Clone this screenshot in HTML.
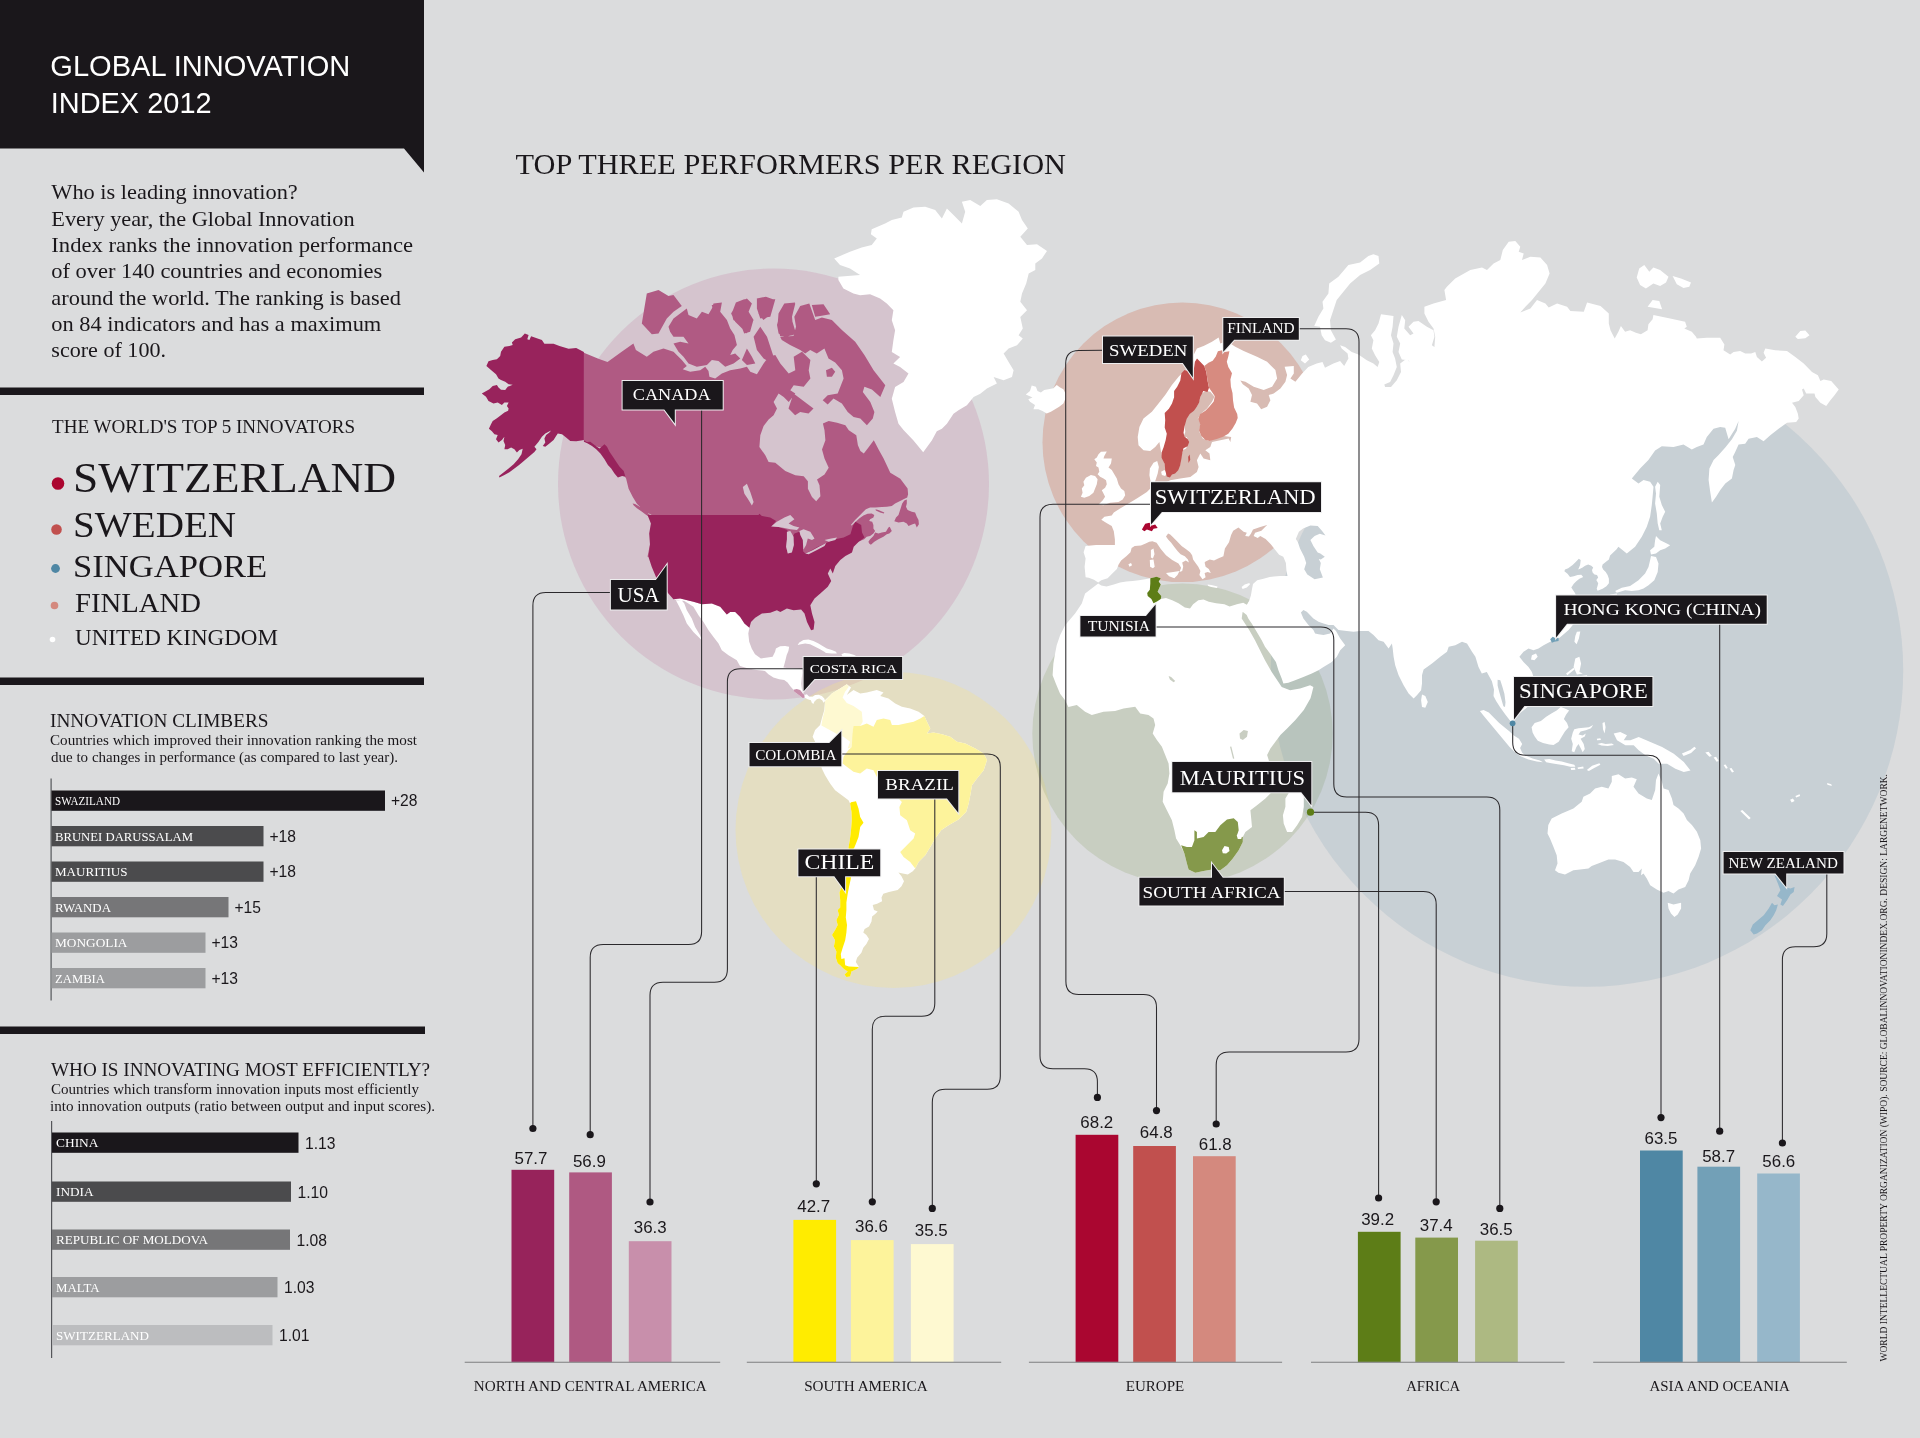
<!DOCTYPE html>
<html lang="en"><head><meta charset="utf-8"><title>Global Innovation Index 2012</title>
<style>html,body{margin:0;padding:0;background:#dbdcdd;}body{width:1920px;height:1438px;overflow:hidden;}svg{display:block;will-change:transform;}text{white-space:pre;}</style></head><body>
<svg width="1920" height="1438" viewBox="0 0 1920 1438">
<rect x="0.0" y="0.0" width="1920.0" height="1438.0" fill="#dbdcdd"/>
<g id="map">
<circle cx="773.5" cy="484" r="215.5" fill="#bd6497" fill-opacity="0.2"/>
<circle cx="893.5" cy="830" r="158" fill="#f9e686" fill-opacity="0.3"/>
<circle cx="1182.3" cy="442.3" r="139.8" fill="#cf5839" fill-opacity="0.25"/>
<circle cx="1182.5" cy="733.7" r="150.2" fill="#7f9456" fill-opacity="0.2"/>
<circle cx="1587" cy="670.5" r="316.2" fill="#5b8aa8" fill-opacity="0.15"/>
<path fill="#ffffff" d="M673.4 599.3L680.1 598.5L693.4 601.8L701.8 604.3L711.8 603.5L720.2 606.8L726.8 614.4L730.2 611.9L735.2 611.9L740.2 616.9L744.4 623.5L749.4 627.7L748.3 633.4L749.2 641.7L751.7 648.4L755.0 654.3L760.9 658.4L767.5 657.6L772.6 656.8L775.1 651.7L775.9 648.4L780.1 646.3L785.1 645.9L789.2 646.7L788.4 650.9L786.7 655.1L785.5 660.1L784.2 665.1L783.4 667.6L786.7 668.0L791.7 668.0L798.4 668.4L802.2 668.9L802.6 672.6L801.8 677.6L801.3 683.5L801.8 688.5L803.4 693.5L804.7 695.1L806.8 694.3L809.3 696.8L812.6 696.8L815.1 695.1L818.5 694.7L821.8 696.0L824.3 698.5L825.1 701.0L823.5 702.7L822.2 700.2L819.3 698.5L816.8 699.3L814.3 701.8L813.4 703.9L811.8 702.7L810.9 700.2L807.6 699.3L805.5 698.1L802.6 698.1L800.1 696.0L796.8 693.5L794.3 691.8L793.4 689.7L790.1 686.0L787.6 682.6L784.2 680.1L779.2 679.3L773.4 677.6L768.4 674.3L765.0 670.9L756.7 670.1L748.3 668.4L740.0 665.9L736.8 660.3L728.5 655.3L721.8 650.3L718.5 643.6L713.5 636.9L708.5 630.2L703.5 621.9L698.5 615.2L693.4 606.8L688.4 603.5L684.3 601.0ZM681.8 600.5L684.3 603.5L686.8 610.2L691.8 618.5L695.1 626.9L700.1 635.2L701.8 640.2L698.5 636.9L693.4 631.9L686.8 623.5L683.4 615.2L679.3 606.8L675.9 600.2ZM797.6 645.1L799.3 642.6L803.4 640.1L808.4 639.6L813.4 640.9L818.5 643.4L822.6 645.9L826.8 648.4L831.8 650.1L836.0 651.7L836.8 653.4L831.8 653.4L826.0 653.0L824.3 651.7L820.1 649.2L815.1 646.7L810.1 644.2L805.1 643.4L800.9 644.2ZM841.4 654.3L844.3 653.0L849.3 653.4L854.3 655.1L858.5 657.6L848.5 657.6L842.7 656.8ZM834.2 258.4L850.0 251.8L861.7 247.6L871.7 245.1L876.8 238.4L870.9 234.2L871.7 229.2L885.1 223.4L891.8 220.0L901.8 217.5L903.5 211.7L913.5 207.5L925.2 206.7L935.2 210.0L941.9 218.4L946.9 208.4L953.5 215.0L961.9 223.4L965.2 211.7L961.9 201.7L970.2 200.0L980.3 205.9L986.9 200.0L996.9 199.2L1008.6 203.4L1018.6 211.7L1022.0 220.0L1027.8 228.4L1020.3 236.7L1027.0 245.1L1037.0 244.3L1047.0 250.9L1042.0 258.4L1035.3 263.4L1035.3 270.1L1028.7 273.5L1026.2 283.5L1022.0 293.5L1020.3 301.8L1027.0 310.2L1020.3 316.9L1022.8 328.5L1018.6 335.2L1022.8 338.6L1017.0 345.2L1008.6 348.6L1003.6 353.6L1008.6 361.9L1013.6 370.3L1012.0 377.0L1003.6 380.3L993.6 377.0L996.9 383.6L986.9 388.6L980.3 393.7L973.6 397.0L966.9 405.3L958.5 410.3L953.5 413.7L946.9 423.7L941.9 428.7L936.8 431.2L931.8 440.4L923.2 452.2L913.5 440.4L903.5 430.0L898.5 423.7L895.1 412.0L891.8 398.7L895.1 387.0L903.5 382.0L908.5 373.6L900.1 366.9L893.4 363.6L900.1 356.9L891.8 351.9L893.4 340.2L895.1 330.2L891.8 320.2L893.4 310.2L886.8 303.5L880.1 298.5L870.1 294.3L860.1 295.2L853.4 293.5L843.4 288.5L838.4 280.1L838.4 276.8L860.1 275.1L850.0 268.5L840.0 265.1ZM1025.8 394.6L1030.0 390.9L1031.7 385.4L1035.9 386.7L1037.5 390.9L1040.9 392.5L1044.2 390.0L1048.4 389.2L1053.4 388.3L1056.7 385.0L1060.1 387.5L1063.4 389.2L1065.5 393.4L1065.5 398.4L1063.4 403.4L1059.2 406.7L1055.1 409.2L1050.9 411.7L1046.7 413.4L1042.5 410.9L1038.4 409.2L1033.4 409.2L1035.0 405.0L1030.0 401.7L1028.3 399.2L1032.5 397.5L1029.2 395.9ZM825.1 700.0L831.8 693.4L840.1 688.4L846.8 684.2L851.0 687.5L846.8 695.0L853.5 690.0L860.2 693.4L866.8 692.5L876.8 690.0L883.5 692.5L880.2 695.9L888.5 698.4L895.2 703.4L901.9 706.7L910.2 708.4L918.6 711.7L924.4 715.9L927.8 723.4L930.3 728.4L926.9 733.4L933.6 732.6L942.0 734.3L950.3 736.8L957.0 741.8L965.3 743.4L975.3 748.5L983.7 753.5L987.0 760.1L983.7 770.2L977.0 778.5L972.0 785.2L970.3 795.2L968.7 803.5L966.2 811.9L958.6 819.4L948.6 825.2L941.1 830.3L935.3 838.6L930.3 846.9L925.3 855.3L918.6 862.0L915.2 868.6L912.8 871.3L907.8 874.4L901.5 873.2L898.4 872.6L901.5 876.3L904.0 881.3L901.5 886.3L897.7 890.1L889.0 892.0L883.3 893.8L881.5 897.6L882.1 901.3L877.1 903.8L872.7 905.1L874.0 910.1L877.7 911.4L875.2 913.9L872.1 916.4L871.5 921.4L869.0 926.4L864.6 928.9L863.3 932.6L866.4 935.1L869.0 938.9L866.4 943.9L863.3 947.7L861.4 952.7L857.1 957.7L855.8 962.1L858.9 967.1L857.1 969.0L851.4 971.5L850.2 976.5L846.4 977.1L844.5 974.6L847.7 971.5L843.9 969.0L840.2 965.2L837.7 963.3L835.8 957.7L836.4 951.4L833.9 946.4L835.1 940.2L832.0 935.1L835.1 930.1L837.7 925.1L836.4 920.1L838.9 915.1L837.7 910.1L840.2 907.6L840.2 900.1L839.5 892.6L841.4 887.6L845.2 878.8L847.4 862.5L848.9 847.5L848.1 849.4L849.8 840.3L851.0 830.3L851.8 820.2L851.5 811.9L850.1 803.5L848.5 800.2L841.8 795.2L835.1 790.2L830.1 783.5L825.1 775.2L821.8 768.5L817.6 753.5L815.1 741.8L812.6 736.8L815.1 730.1L820.1 725.1L821.8 718.4L824.3 710.1ZM1098.2 583.5L1101.3 585.6L1106.5 586.6L1113.8 584.5L1120.1 582.4L1126.3 581.4L1132.6 580.9L1138.9 580.3L1145.1 579.3L1150.3 578.2L1156.6 576.7L1160.8 578.2L1158.7 581.4L1160.8 584.5L1157.6 591.8L1161.3 596.0L1160.8 599.1L1166.0 598.1L1172.2 600.2L1178.5 603.3L1184.8 607.5L1190.0 608.5L1193.1 604.3L1198.3 600.2L1203.5 599.6L1208.8 601.7L1216.1 603.3L1224.4 604.3L1229.6 606.4L1236.9 604.3L1243.2 602.8L1246.8 604.8L1248.9 601.6L1250.9 603.7L1246.8 610.0L1243.6 612.6L1242.6 612.1L1241.7 618.5L1249.2 630.1L1255.0 640.2L1260.0 650.2L1265.0 660.2L1271.7 671.9L1278.4 681.9L1281.7 686.9L1290.1 690.2L1300.1 688.6L1310.1 685.2L1313.4 686.9L1311.8 693.6L1310.5 698.3L1303.8 710.0L1295.4 720.0L1287.1 728.4L1280.4 735.1L1275.4 741.7L1270.4 748.4L1267.1 755.1L1268.7 760.1L1270.4 768.5L1273.7 776.8L1275.4 785.1L1270.4 793.5L1265.4 798.5L1257.0 805.2L1250.4 810.2L1251.2 818.5L1252.0 826.9L1245.4 831.9L1242.8 836.9L1242.8 841.9L1238.7 850.3L1232.8 858.6L1227.0 865.3L1220.3 870.3L1212.0 869.4L1203.6 871.1L1195.3 872.8L1188.6 869.4L1186.9 863.6L1184.4 853.6L1180.3 845.2L1176.1 838.6L1174.4 830.2L1171.9 820.2L1166.9 810.2L1162.7 801.8L1163.6 791.8L1167.7 783.5L1169.4 773.5L1168.6 763.4L1165.2 755.1L1161.9 746.8L1156.9 740.1L1152.7 733.4L1155.2 725.1L1153.5 718.4L1148.5 715.0L1140.2 713.4L1135.2 706.7L1123.5 708.4L1115.1 710.9L1103.5 711.7L1091.8 715.0L1085.1 711.7L1076.8 705.0L1068.4 707.0L1065.1 700.3L1060.1 693.7L1055.9 683.7L1052.6 675.3L1053.4 663.6L1055.1 653.6L1056.7 645.3L1060.1 635.2L1065.1 625.2L1075.1 613.5L1081.8 603.5L1085.1 593.5ZM1285.4 798.5L1290.4 790.2L1300.4 783.5L1303.8 790.2L1303.8 806.8L1302.1 816.9L1297.1 825.2L1292.1 831.9L1287.1 831.9L1283.7 823.5L1282.9 815.2L1285.4 806.8ZM1098.5 454.3L1101.0 451.8L1106.8 451.4L1104.3 456.0L1103.5 458.5L1111.8 458.5L1111.0 463.5L1108.5 467.6L1111.8 470.1L1114.3 474.3L1116.8 478.5L1118.5 484.3L1121.0 488.5L1124.3 491.0L1125.2 495.2L1122.7 499.4L1118.5 501.9L1110.1 502.7L1103.5 505.2L1098.5 504.4L1102.6 500.6L1105.1 496.8L1103.5 493.5L1101.8 490.2L1105.1 487.7L1106.8 484.3L1106.0 480.2L1103.5 478.5L1100.1 476.8L1097.6 474.3L1099.3 471.8L1098.5 467.6L1096.0 466.0L1096.8 462.6L1094.3 459.3L1096.8 457.6ZM1083.4 481.8L1085.9 477.7L1090.9 475.1L1095.1 476.0L1097.6 479.3L1096.8 484.3L1095.1 488.5L1093.4 492.7L1089.3 496.0L1084.3 497.7L1080.9 496.8L1082.6 492.7L1081.8 488.5L1084.3 485.2ZM1161.1 471.8L1164.4 470.1L1166.9 472.6L1165.2 476.0L1161.9 475.1ZM1150.9 550.1L1153.5 548.5L1154.5 554.3L1152.9 558.4L1150.9 557.4ZM1149.8 560.0L1153.5 559.5L1154.7 566.8L1152.9 568.3L1150.1 566.8ZM1166.0 573.0L1173.3 572.0L1179.5 570.9L1177.5 575.1L1174.3 578.2L1169.1 576.2ZM1128.4 564.2L1131.0 563.1L1132.1 565.2L1129.5 566.8ZM1207.6 584.4L1211.3 585.1L1217.6 586.5L1217.0 587.9L1211.3 587.0L1208.2 586.0ZM1241.6 587.0L1244.7 584.4L1249.4 582.9L1249.9 584.4L1246.8 587.5L1242.6 589.1ZM1373.4 254.2L1378.5 255.9L1379.3 263.4L1370.1 270.1L1360.1 275.1L1350.1 283.4L1343.4 291.8L1336.7 300.1L1333.4 310.1L1330.0 320.2L1330.9 330.2L1335.9 339.4L1330.9 342.7L1325.0 340.2L1321.7 335.2L1320.0 326.8L1314.2 326.0L1318.4 316.8L1323.4 308.5L1322.5 301.8L1328.4 293.4L1329.2 283.4L1338.4 276.8L1348.4 265.1L1360.1 262.6L1368.4 255.9ZM1302.5 356.0L1305.8 354.4L1309.2 359.4L1305.0 363.6L1300.8 360.2ZM1636.7 277.6L1639.2 268.4L1644.3 265.1L1649.3 271.7L1653.4 267.6L1660.1 270.1L1668.5 276.8L1666.0 282.6L1660.1 285.9L1653.4 283.4L1645.9 288.4L1640.1 285.1ZM1672.6 275.9L1681.0 278.4L1691.0 282.6L1689.3 286.8L1683.5 288.1L1676.8 284.3ZM1647.6 306.8L1652.6 300.1L1659.3 301.0L1662.1 309.3ZM1795.3 336.8L1800.3 331.0L1805.3 330.5L1809.5 335.2L1805.3 338.2L1797.8 338.9ZM1657.7 481.7L1660.2 485.1L1659.3 496.8L1661.8 505.1L1665.2 511.8L1662.7 516.8L1660.2 523.5L1661.8 530.2L1659.3 530.2L1657.7 523.5L1656.8 513.5L1655.1 503.4L1656.0 493.4L1655.1 486.8ZM1656.0 536.0L1660.2 540.2L1666.8 543.5L1670.2 545.2L1665.2 548.5L1660.2 550.2L1656.0 553.5L1651.0 554.4L1650.1 550.2L1654.3 546.8L1655.1 540.2ZM1651.0 556.0L1656.0 556.9L1658.5 563.5L1657.7 571.9L1654.3 580.2L1648.5 585.2L1643.5 588.6L1638.5 590.3L1631.8 591.1L1625.1 590.3L1616.8 592.8L1615.1 591.1L1621.8 587.7L1630.1 586.1L1638.5 580.2L1645.1 573.6L1648.5 566.9L1650.1 560.2ZM1610.1 594.4L1616.8 593.6L1617.6 598.6L1613.4 601.9L1610.1 599.4ZM1576.9 631.8L1580.3 631.5L1578.9 638.5L1576.6 644.3L1574.4 641.8L1575.3 636.0ZM1531.9 655.2L1536.0 653.5L1537.7 656.8L1534.4 660.2L1531.0 659.4ZM1479.9 711.0L1483.6 710.0L1488.8 712.6L1494.0 717.8L1499.2 723.0L1504.4 727.2L1509.6 731.4L1513.8 735.6L1519.0 738.7L1522.2 743.9L1520.1 748.1L1522.2 752.8L1525.3 755.4L1532.6 758.5L1539.9 760.6L1543.0 762.2L1536.8 761.6L1528.4 759.5L1521.1 756.4L1514.9 752.2L1509.6 747.0L1504.4 740.8L1499.2 734.5L1494.0 728.2L1488.8 722.0L1483.6 715.7ZM1531.6 727.2L1534.7 723.0L1540.9 720.9L1546.2 716.8L1551.4 713.6L1556.6 710.5L1560.8 706.9L1564.9 708.4L1569.1 710.5L1566.0 714.7L1563.9 718.9L1567.0 723.0L1568.6 727.2L1564.9 731.4L1561.8 736.6L1558.7 741.8L1553.5 744.9L1549.3 744.4L1543.0 742.9L1537.8 740.8L1534.7 736.6L1532.6 732.4ZM1572.8 732.4L1574.3 729.3L1578.5 728.2L1583.7 727.7L1588.9 727.2L1593.1 725.1L1591.0 728.2L1585.8 730.3L1580.6 731.4L1578.5 734.5L1582.7 735.6L1585.8 733.5L1584.8 736.6L1580.6 738.7L1583.7 743.9L1584.8 749.1L1582.7 752.2L1580.6 748.1L1578.5 743.9L1576.4 747.0L1574.3 752.2L1571.7 751.2L1572.8 743.9L1571.2 738.7ZM1544.1 759.5L1549.3 759.0L1555.6 760.6L1561.8 761.6L1568.1 763.2L1574.3 764.8L1575.4 766.8L1570.2 766.8L1563.9 765.3L1557.6 764.2L1551.4 763.2L1546.2 762.2ZM1570.7 767.9L1574.9 767.7L1575.4 769.8L1571.2 770.0ZM1577.5 767.4L1583.2 766.6L1583.7 768.4L1578.0 769.1ZM1586.8 770.0L1592.1 765.8L1599.4 763.2L1600.4 764.8L1594.2 767.9L1588.9 771.0ZM1602.5 723.0L1604.6 722.0L1605.6 727.2L1604.6 733.5L1603.0 729.3ZM1597.3 743.9L1601.5 742.9L1605.6 743.9L1611.9 743.4L1614.0 744.9L1607.7 746.0L1601.5 745.5ZM1596.8 738.7L1600.4 738.2L1600.9 739.9L1597.1 740.2ZM1575.3 658.5L1579.4 656.8L1581.1 663.5L1579.4 671.9L1582.8 673.5L1576.9 674.4L1573.6 666.9ZM1581.1 676.0L1587.0 675.2L1587.8 678.5L1582.8 679.4ZM1566.1 673.5L1573.6 667.7L1574.4 669.4L1567.3 675.2ZM1613.7 733.6L1620.3 732.0L1627.0 735.3L1623.7 740.3L1630.4 740.3L1638.7 737.0L1650.4 742.0L1662.1 747.0L1673.8 753.7L1683.8 762.0L1690.5 770.4L1683.8 772.0L1675.4 768.7L1667.1 763.7L1658.7 763.7L1653.7 758.7L1645.4 755.3L1638.7 750.3L1633.7 745.3L1625.4 745.3L1617.0 740.3ZM1422.0 694.4L1425.3 696.1L1427.8 701.9L1425.3 707.8L1422.0 706.9L1421.1 700.3ZM1548.3 825.1L1551.7 818.5L1561.7 813.4L1573.4 808.4L1581.7 801.8L1583.4 796.8L1590.1 793.4L1595.1 788.4L1601.8 786.7L1608.4 788.4L1611.8 781.7L1611.8 775.9L1618.5 774.2L1625.1 778.4L1631.8 777.6L1636.8 779.2L1633.5 786.7L1638.5 793.4L1646.8 798.4L1651.8 800.1L1655.2 790.1L1656.0 780.1L1658.5 773.4L1661.9 781.7L1663.5 788.4L1668.5 790.1L1671.9 798.4L1673.5 805.1L1678.5 808.4L1683.6 813.4L1686.9 820.1L1691.9 825.1L1696.9 831.8L1700.3 840.2L1701.1 848.5L1698.6 856.8L1695.2 865.2L1690.2 873.5L1688.6 880.2L1685.2 886.9L1678.5 889.4L1673.5 893.6L1668.5 891.1L1663.5 892.7L1656.8 889.4L1650.2 885.2L1646.8 878.5L1643.5 873.5L1641.0 875.2L1641.8 868.5L1638.5 871.9L1633.5 871.9L1630.1 866.9L1623.5 861.9L1615.1 859.4L1608.4 859.4L1600.1 862.7L1591.7 866.0L1588.4 868.5L1580.1 869.4L1573.4 870.2L1565.0 874.4L1558.4 872.7L1555.0 870.2L1557.5 863.5L1556.7 855.2L1553.4 846.8L1550.0 838.5L1547.5 833.5ZM1667.7 902.8L1673.5 904.4L1681.1 902.8L1681.1 908.6L1677.7 914.4L1674.4 916.9L1671.0 913.6L1668.5 908.6ZM1740.3 810.9L1742.3 810.1L1750.7 818.1L1749.0 819.5ZM1790.1 799.8L1792.9 798.4L1794.6 800.9L1791.7 802.6ZM1795.4 795.9L1799.6 794.3L1800.1 795.9L1796.2 797.6ZM1705.3 752.5L1708.6 751.7L1711.9 755.9L1709.4 756.7ZM1713.6 757.5L1716.1 756.7L1718.6 760.9L1716.6 761.7ZM1723.6 765.0L1725.6 764.4L1727.8 768.0L1726.0 768.7ZM1729.5 768.4L1731.5 768.0L1734.0 771.7L1732.0 772.6ZM1681.9 753.4L1690.2 750.0L1694.4 746.7L1696.1 748.3L1691.1 753.0L1683.6 755.9ZM1827.1 783.1L1831.3 784.2L1831.8 785.9L1827.4 784.7Z"/>
<path fill="#ffffff" d="M1218.6 337.6L1220.3 343.4L1225.3 341.7L1230.3 343.4L1235.3 346.7L1243.7 350.9L1257.0 356.8L1267.1 361.8L1275.4 370.1L1277.1 378.5L1272.1 386.8L1263.7 390.1L1253.7 386.8L1245.4 381.8L1240.3 380.5L1242.8 384.3L1248.7 388.5L1252.0 395.1L1250.4 401.8L1257.0 403.5L1261.2 409.3L1267.1 406.8L1270.4 400.2L1268.7 395.1L1273.7 393.5L1280.4 388.5L1285.4 381.8L1287.1 375.1L1284.6 366.8L1293.8 365.9L1293.8 373.4L1290.4 378.5L1295.4 381.8L1302.1 373.4L1308.3 366.9L1316.7 363.6L1322.5 361.9L1325.0 367.7L1333.4 363.6L1340.1 361.1L1344.2 366.1L1348.4 358.5L1347.6 353.5L1341.7 348.5L1340.1 345.2L1345.1 346.9L1351.7 351.9L1358.4 354.4L1366.8 360.2L1373.4 363.6L1377.6 366.9L1379.3 361.9L1375.1 355.2L1371.8 348.5L1373.4 340.2L1370.9 335.2L1375.1 330.2L1378.5 323.5L1381.0 314.3L1393.5 316.0L1392.6 326.8L1391.0 335.2L1393.5 343.5L1392.6 351.9L1395.1 358.5L1396.8 366.9L1393.5 375.2L1390.1 381.9L1384.3 384.4L1385.1 386.9L1391.0 386.9L1396.8 380.3L1401.0 371.9L1400.2 363.6L1406.8 358.5L1411.8 365.2L1415.2 373.6L1411.8 366.9L1408.5 360.2L1401.8 359.4L1398.5 351.9L1400.2 343.5L1396.8 336.8L1398.5 326.8L1401.8 315.1L1405.2 320.2L1404.3 328.5L1410.2 335.2L1413.5 333.5L1408.5 326.8L1413.5 321.8L1418.5 321.0L1426.9 326.8L1433.5 330.2L1434.4 336.8L1431.9 345.2L1434.4 346.9L1435.2 336.8L1433.5 328.5L1428.5 321.8L1424.4 313.5L1424.4 306.8L1433.5 303.5L1446.1 300.1L1444.4 290.1L1446.9 286.8L1455.2 278.4L1470.3 270.1L1482.0 267.6L1487.0 270.1L1493.6 263.4L1500.3 260.1L1502.8 250.0L1508.7 241.7L1515.3 240.9L1520.3 246.7L1518.7 251.7L1523.7 253.4L1522.0 260.1L1530.4 256.7L1540.4 257.6L1547.1 265.1L1549.6 273.4L1545.4 283.4L1538.7 291.8L1532.0 300.1L1525.4 306.8L1520.3 312.6L1530.4 308.5L1537.0 300.1L1545.4 303.5L1548.7 307.6L1557.1 303.5L1567.1 306.8L1570.4 311.0L1583.8 311.8L1587.1 302.6L1600.5 306.0L1608.8 313.5L1608.8 323.5L1610.5 330.2L1614.7 338.5L1618.4 331.8L1620.9 326.0L1625.1 331.8L1630.1 330.2L1635.9 332.7L1640.9 334.3L1647.6 330.2L1648.4 324.3L1652.6 319.3L1653.4 315.1L1670.1 318.5L1685.1 321.8L1686.8 326.8L1684.3 328.5L1691.8 331.8L1696.0 336.8L1696.8 338.5L1706.8 337.7L1720.2 337.7L1724.4 344.4L1723.5 350.2L1730.2 354.4L1733.6 351.9L1740.2 351.0L1745.2 353.5L1751.1 353.5L1755.3 351.9L1756.9 356.9L1761.9 361.6L1766.1 357.7L1763.6 352.7L1765.3 348.5L1775.3 350.2L1787.0 351.0L1795.3 356.9L1803.7 363.6L1812.0 371.9L1817.9 375.2L1820.4 381.1L1823.7 379.4L1831.2 381.1L1838.7 389.4L1834.5 395.3L1830.4 400.3L1826.2 406.1L1820.4 402.8L1815.4 396.9L1814.5 393.6L1806.2 393.6L1803.7 388.6L1802.0 389.4L1803.7 395.3L1798.7 401.1L1792.0 402.8L1795.3 407.0L1797.8 413.6L1798.7 418.6L1796.2 422.0L1787.0 422.8L1778.6 428.7L1770.3 435.3L1763.6 441.2L1756.9 437.0L1748.6 438.7L1745.2 443.7L1738.6 444.5L1735.2 452.0L1732.7 457.0L1735.3 465.1L1733.6 470.1L1731.9 478.4L1725.3 483.4L1720.3 490.1L1716.1 496.8L1711.9 502.6L1710.2 491.8L1708.6 480.1L1709.4 468.4L1713.6 460.0L1718.6 455.0L1725.3 447.5L1731.9 439.2L1736.9 430.8L1738.6 421.1L1735.2 428.7L1728.6 439.2L1725.2 427.8L1720.2 427.0L1713.5 428.7L1706.8 437.0L1703.5 444.5L1696.8 447.0L1691.8 449.5L1683.5 444.5L1673.5 447.0L1661.8 446.2L1655.1 450.4L1648.4 460.0L1640.1 468.4L1631.8 478.4L1638.5 483.4L1643.5 480.1L1650.1 481.7L1653.5 486.8L1652.6 496.8L1651.8 505.1L1650.1 516.8L1646.8 526.8L1641.8 536.8L1635.1 546.8L1626.8 553.5L1618.4 546.8L1616.4 549.4L1613.2 552.5L1610.1 555.6L1608.9 559.4L1605.7 561.9L1602.6 564.4L1602.0 566.9L1603.2 569.4L1605.7 571.9L1607.6 575.1L1608.9 578.8L1608.9 583.2L1606.4 586.3L1602.6 588.8L1597.6 590.7L1596.7 588.8L1597.6 585.7L1598.2 583.2L1596.3 580.1L1598.2 577.6L1597.0 575.1L1594.5 574.4L1592.6 572.6L1592.0 570.0L1593.2 567.5L1591.3 565.7L1588.2 564.4L1585.1 565.7L1582.6 567.5L1580.1 568.8L1578.2 569.4L1580.1 565.0L1580.7 560.0L1578.8 558.8L1575.7 561.9L1572.6 565.0L1568.2 568.2L1565.0 569.4L1564.4 571.3L1567.5 573.8L1570.0 576.9L1573.8 576.3L1577.6 575.1L1581.3 574.7L1583.2 576.9L1579.4 578.8L1576.3 581.3L1573.8 583.8L1571.3 587.6L1572.6 589.5L1575.1 593.2L1575.7 595.1L1579.4 596.8L1582.0 606.8L1578.6 616.8L1573.6 624.0L1568.6 630.1L1562.8 635.1L1558.6 638.5L1550.2 641.8L1543.6 645.2L1538.5 648.5L1533.5 650.2L1528.5 648.5L1523.5 651.8L1519.4 656.8L1523.5 661.9L1528.5 666.9L1531.9 671.9L1533.5 676.9L1528.4 706.3L1514.3 717.8L1511.7 722.5L1509.6 719.9L1505.5 714.7L1500.3 707.4L1496.1 701.1L1493.5 695.9L1494.0 689.6L1491.9 681.3L1486.8 671.9L1481.8 673.5L1478.5 666.9L1475.4 656.8L1472.0 651.8L1467.0 643.5L1462.0 641.8L1455.3 645.2L1448.7 646.8L1447.0 651.8L1440.3 656.8L1432.0 663.5L1423.6 669.4L1422.0 675.2L1422.0 683.6L1421.1 690.2L1416.9 695.2L1413.6 698.6L1408.6 693.6L1403.6 685.2L1398.6 675.2L1395.2 665.2L1393.6 656.8L1392.7 648.5L1391.9 643.5L1388.6 648.5L1383.6 641.8L1378.5 640.2L1373.5 635.1L1368.5 631.0L1360.2 631.0L1353.5 631.8L1346.8 631.0L1338.5 630.1L1333.5 625.1L1328.5 625.1L1323.5 623.5L1318.5 621.8L1313.4 618.5L1306.8 611.8L1303.4 610.1L1300.9 612.6L1303.4 618.5L1308.4 625.1L1313.4 630.1L1315.1 633.5L1318.5 634.3L1323.5 635.1L1330.1 633.5L1333.5 628.5L1336.0 631.0L1340.2 638.5L1345.2 645.2L1340.2 650.2L1336.8 656.8L1331.8 661.9L1323.5 666.9L1318.5 670.2L1311.8 673.5L1303.4 676.9L1295.1 680.2L1288.4 682.7L1283.4 683.6L1281.7 678.5L1278.4 670.2L1275.9 661.9L1270.0 653.5L1265.0 646.8L1261.7 640.2L1256.7 631.8L1251.7 623.5L1248.3 618.5L1246.7 615.1L1243.6 612.6L1246.8 606.8L1248.9 601.6L1250.9 595.4L1252.0 589.1L1253.0 583.9L1257.2 580.2L1263.5 578.7L1269.7 577.1L1273.9 576.6L1280.2 576.1L1287.5 576.1L1286.4 570.3L1285.9 563.0L1283.3 556.8L1279.1 554.7L1274.9 549.5L1270.8 544.3L1265.6 539.0L1260.3 535.9L1257.7 538.0L1253.6 535.9L1255.1 532.8L1261.4 530.7L1267.1 525.0L1260.3 527.0L1253.0 529.6L1250.9 533.8L1248.9 536.4L1245.2 535.9L1246.8 532.8L1243.6 531.7L1238.4 527.6L1233.2 530.7L1231.1 534.9L1229.0 542.2L1224.9 548.4L1223.4 556.3L1218.1 558.4L1214.0 560.5L1209.8 559.5L1205.6 561.6L1204.6 562.6L1205.6 566.8L1208.8 568.9L1210.8 573.0L1207.7 572.0L1204.6 573.0L1205.6 577.2L1202.5 579.3L1199.4 575.1L1200.4 570.9L1198.3 566.8L1195.2 562.6L1193.1 559.5L1192.1 555.3L1190.0 552.2L1185.8 549.0L1181.6 545.9L1177.5 541.7L1173.3 537.6L1170.2 534.4L1168.1 533.4L1166.0 536.5L1168.1 539.6L1171.2 542.8L1174.3 546.9L1177.5 551.1L1180.6 554.3L1184.8 556.3L1187.9 559.5L1188.9 562.6L1185.8 560.5L1182.2 562.6L1183.2 566.8L1182.2 570.9L1179.5 572.0L1181.1 567.8L1178.5 563.6L1172.2 560.0L1166.0 555.3L1160.8 549.0L1156.6 542.8L1152.4 541.2L1149.3 541.7L1145.1 543.8L1140.9 545.4L1134.7 545.9L1131.6 548.0L1130.5 552.2L1126.3 556.3L1121.1 560.5L1118.5 564.7L1116.9 568.9L1112.8 573.0L1107.6 578.2L1101.3 580.3L1098.2 582.4L1094.0 579.8L1088.8 577.7L1085.6 577.2L1084.6 566.8L1085.6 558.4L1083.6 552.2L1085.6 545.9L1096.1 544.9L1106.5 544.9L1114.9 544.9L1114.9 539.6L1113.8 531.3L1111.7 526.1L1106.5 523.0L1101.3 519.8L1104.4 516.7L1111.7 515.6L1113.8 512.5L1116.9 510.4L1126.8 504.5L1136.8 498.6L1146.9 492.0L1151.9 487.0L1151.0 483.6L1149.4 475.3L1149.9 468.6L1153.5 462.8L1157.2 461.1L1158.9 466.9L1157.7 473.6L1155.5 480.3L1153.5 484.5L1158.5 485.6L1165.2 482.8L1170.2 480.3L1180.3 478.6L1190.3 476.9L1196.9 471.9L1198.6 466.9L1196.9 460.3L1200.3 453.6L1203.6 458.6L1210.3 460.3L1209.5 453.6L1205.3 450.2L1210.3 446.9L1212.0 441.9L1220.3 440.2L1228.7 438.5L1230.3 441.9L1231.2 436.9L1223.7 436.0L1217.0 437.7L1208.6 441.1L1202.8 438.5L1199.4 431.9L1200.3 423.5L1197.8 418.5L1201.1 413.5L1207.0 408.5L1212.0 401.8L1214.5 396.8L1210.3 391.8L1206.1 391.0L1201.1 393.5L1199.4 400.2L1196.9 406.8L1190.3 411.8L1186.9 416.8L1184.4 423.5L1185.3 431.9L1182.8 438.5L1186.9 436.9L1188.6 441.9L1186.1 448.6L1182.8 450.2L1181.1 456.9L1180.3 464.4L1177.7 468.6L1172.7 470.3L1171.1 473.6L1166.9 472.8L1165.2 465.3L1162.7 458.6L1161.1 451.9L1159.4 441.9L1155.2 446.9L1150.2 451.1L1143.5 450.2L1138.5 445.2L1137.7 436.9L1139.4 426.9L1143.5 418.5L1151.9 411.8L1158.5 403.5L1165.2 395.1L1171.9 385.1L1178.6 376.8L1185.3 370.1L1193.6 365.1L1193.6 355.1L1196.9 348.4L1203.6 345.9L1212.0 341.7ZM1297.9 542.2L1300.0 548.4L1304.2 556.8L1306.2 563.0L1304.2 569.3L1307.3 574.5L1314.6 579.2L1322.9 577.6L1319.8 569.3L1320.8 563.0L1318.8 558.9L1320.8 559.4L1324.8 556.8L1320.3 553.6L1317.7 552.6L1313.5 546.3L1310.4 540.1L1314.6 535.9L1319.8 533.8L1325.5 535.4L1321.9 530.7L1317.7 526.0L1310.4 525.5L1303.1 528.6L1298.9 531.7L1295.8 539.0Z"/>
<path fill="#b05a83" d="M583.3 352.6L598.4 358.8L607.5 362.1L621.7 351.8L633.4 343.4L635.9 350.1L646.8 356.8L653.4 351.8L663.5 348.5L673.5 351.8L681.8 360.1L686.8 366.0L682.7 369.3L690.2 371.8L700.2 370.2L705.2 366.8L708.5 371.0L709.4 376.8L715.2 378.5L721.9 373.5L730.2 370.2L740.3 368.5L746.9 366.8L750.3 371.8L756.9 374.3L763.6 363.5L768.6 356.8L775.3 355.1L780.3 363.5L788.7 373.5L795.3 370.2L793.7 356.8L802.0 351.8L810.4 360.1L808.7 370.2L810.4 378.5L803.7 386.8L793.7 385.2L790.3 390.2L795.3 393.5L788.7 401.9L783.7 396.9L778.6 393.5L773.6 401.9L777.0 408.5L773.6 415.2L768.6 419.4L763.6 426.1L760.3 435.3L759.4 446.9L765.3 455.3L768.6 462.0L775.3 462.8L785.3 471.1L795.3 475.3L803.7 476.2L807.9 481.2L807.9 488.7L812.0 497.0L816.2 501.2L820.4 496.2L819.5 485.3L817.0 479.5L824.5 474.5L828.7 467.8L824.5 458.6L822.0 449.4L825.4 440.3L824.5 430.3L822.9 423.6L828.7 421.1L837.1 422.7L845.4 425.2L848.8 430.3L856.3 435.3L857.9 445.3L860.4 451.1L863.8 453.6L868.8 446.9L873.8 440.3L878.6 449.4L883.6 458.6L890.3 472.8L900.3 478.7L907.6 488.4L908.1 494.2L907.2 497.5L903.5 499.2L900.1 500.9L895.1 503.4L891.8 505.9L886.8 506.7L881.8 507.1L875.1 507.6L870.1 507.6L865.9 509.2L862.6 512.6L859.2 515.9L855.1 520.1L850.9 525.1L851.7 525.5L855.1 522.2L859.2 518.4L863.4 515.5L867.6 513.8L871.7 513.4L874.3 515.1L873.4 517.6L870.1 519.2L869.2 520.9L872.2 521.7L873.4 525.1L873.4 528.4L875.1 530.9L873.4 533.4L870.1 535.9L866.7 536.8L864.2 539.3L850.4 545.1L812.0 556.8L786.9 556.8L647.5 556.8L655.3 517.0L643.6 510.4L636.9 503.7L632.8 497.0L628.6 488.7L626.1 478.6L621.9 472.0L615.2 463.6L608.5 455.3L603.5 447.8L598.5 446.9L590.2 444.4L584.0 440.3ZM641.8 323.4L646.8 293.4L658.5 290.0L668.5 295.9L673.5 295.0L681.8 305.9L673.5 311.7L666.8 318.4L661.8 327.6L658.5 333.4L651.8 334.3ZM668.5 326.8L673.5 318.4L686.8 308.4L688.5 315.1L696.8 318.4L701.9 311.7L708.5 314.2L711.9 308.4L713.5 303.4L721.9 302.6L720.2 311.7L726.9 320.1L730.2 328.4L734.4 335.1L736.9 345.1L732.7 350.1L730.2 355.1L735.2 353.5L740.3 358.5L733.6 363.5L725.2 366.8L718.5 361.0L711.9 360.1L706.9 365.1L696.8 366.8L688.5 363.5L683.5 356.8L678.5 351.8L673.5 343.4L680.2 341.8L688.5 343.4L683.5 336.8L673.5 336.8L670.1 331.8ZM731.1 313.4L736.9 303.4L746.9 298.4L751.9 303.4L748.6 311.7L753.6 320.1L746.9 333.4L740.3 326.8L735.2 321.7ZM756.9 298.4L775.3 299.2L770.3 316.7L760.3 318.4L756.9 308.4ZM777.0 325.1L780.3 311.7L787.0 303.4L795.3 303.4L792.0 316.7L793.7 335.1L783.7 336.8L778.6 333.4ZM753.6 336.8L760.3 326.8L767.0 336.8L770.3 346.8L773.6 356.8L780.3 365.1L787.0 371.8L788.7 376.8L780.3 373.5L772.0 363.5L763.6 358.5L756.9 350.1ZM741.9 360.1L746.9 348.5L751.9 356.8L755.3 363.5L746.9 365.1ZM731.7 313.4L735.9 302.6L744.2 299.2L750.1 301.7L748.4 311.7L753.4 320.1L750.1 331.8L744.2 333.4L740.9 325.1L733.4 320.1ZM756.8 298.4L765.9 296.7L775.1 300.0L770.1 315.1L763.4 320.1L758.4 313.4ZM711.7 305.1L721.7 303.4L719.2 311.7L714.2 313.4ZM778.5 313.4L784.3 303.4L795.1 302.6L791.0 316.7L796.0 333.4L786.8 336.8L780.1 335.9L777.6 325.1ZM811.8 305.1L823.5 304.2L830.2 314.2L820.2 315.9L815.2 316.7ZM794.3 316.7L800.2 305.9L809.3 303.4L815.2 320.1L821.9 317.6L831.9 320.1L841.9 330.1L855.2 341.8L864.4 355.1L873.6 370.2L885.3 385.2L880.3 396.9L871.9 389.4L864.4 386.8L862.8 391.9L870.3 401.9L874.4 411.9L872.8 418.6L866.9 425.2L860.3 418.6L853.6 416.9L847.7 411.9L841.9 403.5L833.5 398.5L827.7 404.4L822.7 400.2L827.7 395.2L837.7 393.5L843.6 378.5L841.9 370.2L835.2 362.6L828.5 358.5L824.4 348.5L816.8 353.5L810.2 350.1L805.2 353.5L800.2 350.1L790.1 345.1L781.8 340.1L780.1 336.8L793.5 335.9L796.0 326.8ZM788.5 408.5L793.5 393.5L800.2 398.5L806.8 403.5L813.5 408.5L808.5 413.6L800.2 411.9L795.1 415.2ZM826.0 370.2L831.9 367.7L835.2 371.8L831.9 376.8L826.9 376.8ZM868.4 541.8L870.1 539.3L873.4 535.9L875.1 532.6L878.4 533.4L881.8 532.6L885.9 531.8L888.4 527.6L889.7 526.8L891.8 530.9L889.3 533.4L886.8 534.3L883.4 536.8L878.4 539.3L874.3 541.8L870.9 544.7L869.2 543.4ZM902.2 503.4L904.3 500.5L906.8 499.6L906.8 503.4L906.0 506.7L907.6 510.1L911.8 511.7L915.1 512.6L916.8 516.7L918.5 520.1L918.9 524.3L916.8 527.6L915.1 523.4L912.6 524.3L908.5 525.9L906.8 523.4L903.5 521.7L898.5 522.6L894.3 521.3L896.0 517.6L898.5 515.1L900.1 510.1L901.4 505.9ZM875.5 509.2L878.4 510.1L884.3 512.6L883.8 513.6L880.1 512.6L875.9 510.5ZM632.6 503.5L635.1 504.1L640.1 506.9L645.1 510.7L649.5 514.4L652.6 517.5L650.1 516.9L646.3 515.0L641.3 511.3L636.9 508.2L633.8 505.6Z"/>
<path fill="#98235c" d="M647.5 515.0L758.5 515.0L759.4 513.7L761.9 515.9L770.2 517.5L776.1 520.9L771.9 525.9L778.6 527.1L786.9 529.7L789.4 533.4L786.9 540.1L786.1 546.8L787.8 553.4L791.9 551.8L793.6 545.1L791.9 538.4L794.4 533.4L799.4 531.7L802.8 537.6L805.3 545.1L802.8 550.9L805.3 553.4L812.0 550.1L817.8 546.8L825.3 543.4L830.3 540.9L835.3 539.2L843.7 537.6L850.4 534.2L852.9 525.9L855.4 521.7L861.2 525.1L862.0 532.6L864.5 537.6L858.7 541.7L853.7 546.8L852.0 552.6L845.4 555.9L840.3 560.1L835.3 566.0L832.8 573.5L830.3 568.5L827.8 573.5L831.2 581.0L827.8 586.8L820.3 593.5L814.5 598.5L810.3 605.2L812.0 613.5L814.5 621.9L813.6 629.4L811.1 630.2L807.0 621.9L804.5 613.5L801.1 609.4L793.6 610.2L786.9 608.5L780.3 611.9L776.9 610.2L770.2 612.7L761.9 613.5L755.2 617.7L751.0 621.9L749.4 627.7L744.4 623.5L740.2 616.9L735.2 611.9L730.2 611.9L726.8 614.4L720.2 606.8L711.8 603.5L701.8 604.3L693.4 601.8L680.1 598.5L673.4 599.3L668.4 593.5L660.1 583.5L655.9 576.8L651.7 566.8L648.4 556.8L650.0 545.1L649.2 533.4L650.9 523.4Z"/>
<path fill="#d6c5d0" d="M771.1 526.4L776.9 521.7L784.4 517.5L790.3 515.0L794.4 519.2L788.6 523.4L793.6 525.9L799.4 527.6L796.9 530.1L790.3 529.2L784.4 528.1L778.6 527.1ZM786.9 531.7L790.3 530.9L793.6 536.7L793.9 545.1L791.9 552.6L787.8 553.4L786.1 546.8L786.9 539.2ZM799.4 530.9L803.6 529.2L810.3 531.7L814.5 538.4L812.0 540.1L807.8 538.4L806.1 545.1L803.3 550.1L802.8 540.1L800.3 535.1ZM805.3 553.4L812.0 550.4L820.3 545.9L826.2 543.1L824.5 545.9L817.0 550.1L808.6 554.3ZM824.5 540.1L831.2 538.4L837.0 537.6L835.3 540.1L828.7 541.7ZM742.8 487.0L746.9 483.7L750.3 492.0L753.6 502.0L751.9 505.4L747.8 498.7L744.4 493.7Z"/>
<path fill="#c88fab" d="M793.4 689.7L796.8 688.9L800.1 690.1L802.2 692.6L804.3 695.1L804.7 697.7L802.6 698.1L800.1 696.0L796.8 693.5L794.3 691.8Z"/>
<path fill="#fef9d1" d="M825.1 700.9L831.8 693.4L840.1 688.4L846.8 684.2L848.8 686.7L845.1 691.7L842.6 697.5L846.8 703.1L853.5 705.9L861.8 711.7L862.7 721.7L860.2 725.9L853.8 725.9L852.6 731.8L853.5 740.1L851.8 747.6L847.6 748.5L850.1 741.8L843.5 736.8L838.5 735.1L833.4 732.1L828.4 729.3L821.4 725.4L822.6 718.4L824.8 710.1Z"/>
<path fill="#fdf39b" d="M853.5 725.9L860.2 725.9L866.8 723.4L873.5 726.8L876.8 720.1L883.5 718.4L890.2 720.1L891.9 725.1L898.5 725.1L905.2 723.4L913.6 721.7L920.3 718.4L924.4 715.9L927.8 723.4L930.3 728.4L926.9 733.4L933.6 732.6L942.0 734.3L950.3 736.8L957.0 741.8L965.3 743.4L975.3 748.5L983.7 753.5L987.0 760.1L983.7 770.2L977.0 778.5L972.0 785.2L970.3 795.2L968.7 803.5L966.2 811.9L958.6 819.4L948.6 825.2L941.1 830.3L935.3 838.6L930.3 846.9L925.3 855.3L918.6 862.0L915.2 868.6L910.2 862.0L903.6 857.0L900.2 852.0L906.9 845.3L913.6 838.6L915.2 833.6L910.2 830.3L906.9 820.2L900.2 815.2L899.4 806.9L901.9 801.9L898.5 798.5L886.9 796.9L880.2 786.8L876.8 776.8L873.5 770.2L866.8 768.5L860.2 773.5L853.5 771.8L846.8 766.8L842.6 763.5L843.5 756.8L848.5 750.1L851.8 747.1L852.6 731.8Z"/>
<path fill="#ffeb00" d="M851.0 802.2L856.0 801.2L858.5 808.5L860.2 816.9L863.5 822.7L860.2 826.9L858.5 836.9L856.0 843.6L853.5 849.4L853.3 847.5L851.8 862.5L850.8 878.8L848.9 887.6L847.7 893.8L846.4 902.6L846.4 910.1L845.8 917.6L847.0 925.1L846.4 932.6L845.2 940.2L842.7 947.7L840.8 953.9L841.4 958.9L844.5 958.3L845.2 965.2L848.9 966.4L858.9 967.1L857.1 969.0L851.4 971.5L850.2 976.5L846.4 977.1L844.5 974.6L847.7 971.5L843.9 969.0L840.2 965.2L837.7 963.3L835.8 957.7L836.4 951.4L833.9 946.4L835.1 940.2L832.0 935.1L835.1 930.1L837.7 925.1L836.4 920.1L838.9 915.1L837.7 910.1L840.2 907.6L840.2 900.1L839.5 892.6L841.4 887.6L845.2 878.8L847.4 862.5L848.9 847.5L848.1 849.4L849.8 840.3L851.0 830.3L851.8 820.2L851.5 811.9L850.1 803.5Z"/>
<path fill="#c1504e" d="M1197.0 358.6L1200.2 361.7L1204.3 365.9L1206.4 372.2L1207.5 380.5L1209.0 387.8L1207.5 392.0L1203.3 390.9L1200.2 397.2L1199.1 402.4L1197.0 406.6L1193.9 410.8L1189.7 413.9L1186.6 419.1L1184.5 426.4L1183.5 432.7L1184.5 436.8L1187.6 438.9L1189.2 442.1L1187.6 446.2L1183.5 448.3L1182.4 452.5L1181.4 458.8L1180.3 465.0L1178.2 470.2L1175.1 473.4L1172.0 474.4L1169.9 477.5L1166.8 476.5L1165.2 470.2L1164.7 464.0L1161.6 457.7L1161.6 452.5L1163.6 447.3L1165.7 440.0L1166.8 433.7L1164.7 427.5L1165.2 420.2L1164.7 412.9L1168.9 408.7L1172.0 403.5L1174.1 397.2L1174.1 390.9L1177.2 386.8L1180.3 380.5L1181.4 373.2L1184.5 370.1L1188.7 371.1L1193.4 377.9L1193.9 369.0L1194.9 361.7Z"/>
<path fill="#d78b80" d="M1217.9 351.3L1222.1 350.3L1223.1 352.3L1229.4 351.3L1228.3 356.5L1226.8 361.7L1228.3 366.9L1232.0 373.2L1230.4 379.5L1230.9 386.8L1232.5 393.0L1233.0 400.3L1234.1 407.6L1237.2 413.9L1237.7 418.1L1235.6 423.3L1232.5 428.5L1228.3 433.7L1223.1 436.8L1216.8 438.9L1209.5 441.0L1205.4 440.0L1201.2 435.8L1199.1 430.6L1200.2 424.3L1198.1 419.1L1200.2 413.9L1205.4 410.8L1209.5 406.6L1213.7 401.4L1214.8 396.2L1212.7 393.0L1209.0 387.8L1207.5 380.5L1206.4 372.2L1204.3 365.9L1208.5 362.8L1212.7 360.7L1215.8 356.5Z"/>
<path fill="#c1504e" d="M1188.2 456.7L1189.7 454.6L1190.2 459.8L1188.5 462.9Z"/>
<path fill="#aa0630" d="M1141.9 529.5L1145.2 523.7L1149.4 522.8L1151.9 525.4L1155.2 524.5L1157.7 527.9L1153.5 528.7L1151.9 531.2L1146.9 529.5L1144.4 531.2Z"/>
<path fill="#5d7d17" d="M1150.3 578.2L1156.6 576.7L1160.8 578.2L1158.7 581.4L1160.8 584.5L1157.6 591.8L1161.3 596.0L1160.8 599.1L1156.6 601.7L1153.5 603.3L1151.4 599.1L1147.7 596.0L1147.2 592.9L1149.8 589.7L1150.3 583.5Z"/>
<path fill="#85994b" d="M1181.1 845.2L1186.9 846.9L1191.9 846.9L1194.4 840.2L1194.4 830.2L1196.9 831.9L1196.9 838.6L1203.6 836.9L1208.6 831.9L1215.3 831.9L1220.3 825.2L1227.0 819.4L1233.7 818.2L1237.8 821.9L1238.7 830.2L1237.0 835.2L1242.8 836.9L1242.8 841.9L1238.7 850.3L1232.8 858.6L1227.0 865.3L1220.3 870.3L1212.0 869.4L1203.6 871.1L1195.3 872.8L1188.6 869.4L1186.9 863.6L1184.4 853.6Z"/>
<path fill="#ffffff" d="M1222.0 850.3L1224.5 846.1L1228.7 846.9L1229.5 851.1L1226.2 853.6L1222.8 853.3ZM1236.7 835.2L1239.5 833.6L1242.3 835.6L1241.2 838.9L1237.8 838.9Z"/>
<path fill="#c9cec2" d="M1239.5 733.4L1243.7 730.1L1247.9 730.9L1247.0 736.7L1242.8 740.1L1240.0 738.4ZM1230.0 746.8L1231.3 746.4L1234.3 758.4L1233.0 758.8ZM1168.6 676.1L1171.1 677.0L1175.2 681.1L1173.6 682.3L1169.9 679.5Z"/>
<path fill="#96b7ca" d="M1774.5 875.2L1777.0 876.0L1782.0 881.9L1787.1 887.7L1790.4 888.6L1794.6 886.9L1793.7 891.9L1790.4 894.4L1787.1 900.3L1782.9 906.1L1780.4 904.4L1782.0 899.4L1777.0 896.1L1780.4 890.2L1777.9 883.6ZM1772.0 902.8L1774.5 905.3L1777.9 904.4L1776.2 910.3L1773.7 915.3L1770.4 920.3L1765.4 925.3L1762.0 930.3L1757.0 933.6L1753.7 934.5L1750.3 930.3L1752.8 924.5L1758.7 919.4L1763.7 915.3L1768.7 908.6Z"/>
<path fill="#72a0b7" d="M1550.2 639.3L1552.7 636.8L1556.1 638.5L1558.6 637.7L1558.6 641.0L1554.4 641.8L1551.9 642.7Z"/>
<path fill="#c8d0d5" d="M1497.6 679.7L1500.3 680.3L1502.3 686.5L1504.4 693.8L1505.5 702.2L1505.0 706.9L1503.4 706.3L1501.3 699.0L1499.2 691.7L1497.6 685.5Z"/>
<path fill="#98235c" d="M583.9 440.0L581.2 440.5L576.2 441.3L570.3 440.9L566.1 437.5L562.0 434.2L557.8 433.4L556.1 435.9L553.6 440.0L549.4 443.4L545.3 446.7L542.8 445.9L545.3 442.6L544.4 438.4L546.1 435.0L549.4 432.5L551.1 430.4L548.6 431.7L545.3 433.4L541.9 436.7L538.6 441.7L534.4 446.7L536.5 449.2L534.4 452.1L529.4 456.3L524.4 460.5L519.4 464.7L514.4 468.4L509.4 472.2L504.4 475.1L499.4 477.6L499.0 475.9L503.5 472.6L508.6 468.4L513.6 464.3L518.1 459.2L521.5 454.2L522.7 448.8L519.4 450.1L516.9 452.6L514.4 449.2L511.1 447.6L507.7 449.2L504.4 449.2L505.2 445.1L503.5 440.9L504.4 436.7L501.9 440.0L498.5 442.6L496.0 439.2L497.7 435.0L494.4 434.2L491.9 431.3L488.9 428.8L491.0 424.2L492.7 420.9L496.9 418.3L500.2 415.8L504.4 412.5L508.1 410.8L508.6 408.5L506.9 406.0L508.6 402.6L504.4 402.6L501.9 405.1L497.7 402.6L493.5 403.5L488.5 401.0L486.0 396.8L481.8 393.4L489.4 389.3L492.7 385.9L496.9 385.1L498.5 387.6L501.0 389.7L505.2 390.1L507.7 386.8L512.7 384.7L508.6 384.3L505.2 381.8L501.0 380.1L498.5 378.4L496.0 374.3L491.0 370.1L486.4 365.9L488.5 361.3L492.7 360.1L496.9 359.2L500.2 355.9L501.0 351.7L504.4 346.7L509.4 345.9L512.7 345.0L511.9 342.5L515.2 339.2L521.1 337.5L524.8 333.4L528.6 335.0L527.3 339.2L529.4 340.0L531.1 336.3L536.1 337.9L541.9 340.0L544.4 343.8L553.6 343.8L559.5 345.9L568.6 348.8L576.2 348.0L583.9 352.1ZM583.9 440.0L587.0 442.1L590.3 441.7L594.5 445.1L599.5 448.4L604.5 444.2L607.0 446.7L609.5 451.7L612.9 456.7L616.2 461.7L619.6 466.8L623.7 470.9L625.4 476.8L622.1 475.9L617.9 477.6L614.5 473.4L611.2 468.4L607.9 465.1L604.5 459.2L600.4 453.4L596.2 449.2L592.0 445.9L587.8 443.4L583.9 441.7Z"/>
</g>
<g id="conn" fill="none" stroke="#2b292c" stroke-width="1.05">
<path d="M610.9 592.5L545.9 592.5Q532.9 592.5 532.9 605.5L532.9 1128.5"/>
<path d="M701.6 409.2L701.6 931.4Q701.6 944.4 688.6 944.4L603.2 944.4Q590.2 944.4 590.2 957.4L590.2 1134.7"/>
<path d="M803.6 668.8L740.4 668.8Q727.4 668.8 727.4 681.8L727.4 969.2Q727.4 982.2 714.4 982.2L663.0 982.2Q650.0 982.2 650.0 995.2L650.0 1202.0"/>
<path d="M816.3 876.2L816.3 1183.8"/>
<path d="M934.8 798.5L934.8 1003.3Q934.8 1016.3 921.8 1016.3L885.3 1016.3Q872.3 1016.3 872.3 1029.3L872.3 1201.8"/>
<path d="M841.2 754.0L987.3 754.0Q1000.3 754.0 1000.3 767.0L1000.3 1076.2Q1000.3 1089.2 987.3 1089.2L945.3 1089.2Q932.3 1089.2 932.3 1102.2L932.3 1208.4"/>
<path d="M1151.0 504.2L1053.0 504.2Q1040.0 504.2 1040.0 517.2L1040.0 1055.7Q1040.0 1068.7 1053.0 1068.7L1084.4 1068.7Q1097.4 1068.7 1097.4 1081.7L1097.4 1097.4"/>
<path d="M1103.0 350.3L1078.7 350.5Q1065.7 350.6 1065.7 363.6L1065.9 981.5Q1065.9 994.5 1078.9 994.5L1143.5 994.5Q1156.5 994.5 1156.5 1007.5L1156.5 1110.6"/>
<path d="M1298.9 328.7L1346.0 328.7Q1359.0 328.7 1359.0 341.7L1359.0 1039.0Q1359.0 1052.0 1346.0 1052.0L1229.2 1052.0Q1216.2 1052.0 1216.2 1065.0L1216.2 1124.0"/>
<path d="M1155.6 626.9L1320.8 626.9Q1333.8 626.9 1333.8 639.9L1333.8 783.9Q1333.8 796.9 1346.8 796.9L1486.8 796.9Q1499.8 796.9 1499.8 809.9L1499.8 1208.4"/>
<path d="M1310.5 812.2L1365.6 812.2Q1378.6 812.2 1378.6 825.2L1378.6 1198.0"/>
<path d="M1283.8 891.5L1423.2 891.5Q1436.2 891.5 1436.2 904.5L1436.2 1201.8"/>
<path d="M1512.7 723.3L1512.7 742.2Q1512.7 755.2 1525.7 755.2L1648.0 755.2Q1661.0 755.2 1661.0 768.2L1661.0 1117.6"/>
<path d="M1719.7 623.7L1719.7 1131.2"/>
<path d="M1826.8 873.6L1826.8 933.7Q1826.8 946.7 1813.8 946.7L1795.4 946.7Q1782.4 946.7 1782.4 959.7L1782.4 1143.0"/>
</g>
<g id="dots" fill="#1a171b">
<circle cx="532.9" cy="1128.5" r="3.6"/>
<circle cx="590.2" cy="1134.7" r="3.6"/>
<circle cx="650.0" cy="1202" r="3.6"/>
<circle cx="816.3" cy="1183.8" r="3.6"/>
<circle cx="872.3" cy="1201.8" r="3.6"/>
<circle cx="932.3" cy="1208.4" r="3.6"/>
<circle cx="1097.4" cy="1097.4" r="3.6"/>
<circle cx="1156.5" cy="1110.6" r="3.6"/>
<circle cx="1216.2" cy="1124" r="3.6"/>
<circle cx="1499.8" cy="1208.4" r="3.6"/>
<circle cx="1378.6" cy="1198" r="3.6"/>
<circle cx="1436.2" cy="1201.8" r="3.6"/>
<circle cx="1661" cy="1117.6" r="3.6"/>
<circle cx="1719.7" cy="1131.2" r="3.6"/>
<circle cx="1782.4" cy="1143" r="3.6"/>
</g>
<g id="tags">
<path d="M622.6 381H722.7V409.4H622.6ZM664.3 409.4L674.8 409.4L674.8 423.6Z" fill="#1a171b" stroke="#eeeeef" stroke-width="2" stroke-linejoin="miter"/>
<path d="M622.6 381H722.7V409.4H622.6ZM664.3 409.4L674.8 409.4L674.8 423.6Z" fill="#1a171b"/>
<text x="671.7" y="400.2" font-family="'Liberation Serif','DejaVu Serif',serif" font-size="17.1" fill="#fff" text-anchor="middle" textLength="77.9" lengthAdjust="spacingAndGlyphs">CANADA</text>
<path d="M610.9 580H666.7V609.4H610.9ZM655.9 580L666.7 565L666.7 580Z" fill="#1a171b" stroke="#eeeeef" stroke-width="2" stroke-linejoin="miter"/>
<path d="M610.9 580H666.7V609.4H610.9ZM655.9 580L666.7 565L666.7 580Z" fill="#1a171b"/>
<text x="638.5" y="601.6" font-family="'Liberation Serif','DejaVu Serif',serif" font-size="21" fill="#fff" text-anchor="middle" textLength="42.1" lengthAdjust="spacingAndGlyphs">USA</text>
<path d="M803.6 656.9H902.1V679.1H803.6ZM803.6 679.1L814.5 679.1L803.6 691.2Z" fill="#1a171b" stroke="#eeeeef" stroke-width="2" stroke-linejoin="miter"/>
<path d="M803.6 656.9H902.1V679.1H803.6ZM803.6 679.1L814.5 679.1L803.6 691.2Z" fill="#1a171b"/>
<text x="853.4" y="672.8" font-family="'Liberation Serif','DejaVu Serif',serif" font-size="13.5" fill="#fff" text-anchor="middle" textLength="87.5" lengthAdjust="spacingAndGlyphs">COSTA RICA</text>
<path d="M749.5 743H841.3V766.3H749.5ZM829.3 743L841.3 730.9L841.3 743Z" fill="#1a171b" stroke="#eeeeef" stroke-width="2" stroke-linejoin="miter"/>
<path d="M749.5 743H841.3V766.3H749.5ZM829.3 743L841.3 730.9L841.3 743Z" fill="#1a171b"/>
<text x="795.8" y="760.2" font-family="'Liberation Serif','DejaVu Serif',serif" font-size="14" fill="#fff" text-anchor="middle" textLength="81.2" lengthAdjust="spacingAndGlyphs">COLOMBIA</text>
<path d="M878 771H958.3V798.5H878ZM947 798.5L958.3 798.5L958.3 812.7Z" fill="#1a171b" stroke="#eeeeef" stroke-width="2" stroke-linejoin="miter"/>
<path d="M878 771H958.3V798.5H878ZM947 798.5L958.3 798.5L958.3 812.7Z" fill="#1a171b"/>
<text x="919.6" y="790.3" font-family="'Liberation Serif','DejaVu Serif',serif" font-size="17.4" fill="#fff" text-anchor="middle" textLength="68.5" lengthAdjust="spacingAndGlyphs">BRAZIL</text>
<path d="M798.4 849.5H880.2V876.2H798.4ZM834.3 876.2L845.1 876.2L845.1 891.2Z" fill="#1a171b" stroke="#eeeeef" stroke-width="2" stroke-linejoin="miter"/>
<path d="M798.4 849.5H880.2V876.2H798.4ZM834.3 876.2L845.1 876.2L845.1 891.2Z" fill="#1a171b"/>
<text x="839.4" y="869.2" font-family="'Liberation Serif','DejaVu Serif',serif" font-size="20.8" fill="#fff" text-anchor="middle" textLength="70.0" lengthAdjust="spacingAndGlyphs">CHILE</text>
<path d="M1103 336.4H1192.8V363.1H1103ZM1182.8 363.1L1192.8 363.1L1192.8 377.6Z" fill="#1a171b" stroke="#eeeeef" stroke-width="2" stroke-linejoin="miter"/>
<path d="M1103 336.4H1192.8V363.1H1103ZM1182.8 363.1L1192.8 363.1L1192.8 377.6Z" fill="#1a171b"/>
<text x="1148.2" y="356.4" font-family="'Liberation Serif','DejaVu Serif',serif" font-size="16.8" fill="#fff" text-anchor="middle" textLength="78.3" lengthAdjust="spacingAndGlyphs">SWEDEN</text>
<path d="M1223.3 318H1298.8V339.7H1223.3ZM1223.3 339.7L1234.2 339.7L1223.3 351.8Z" fill="#1a171b" stroke="#eeeeef" stroke-width="2" stroke-linejoin="miter"/>
<path d="M1223.3 318H1298.8V339.7H1223.3ZM1223.3 339.7L1234.2 339.7L1223.3 351.8Z" fill="#1a171b"/>
<text x="1261.0" y="333.3" font-family="'Liberation Serif','DejaVu Serif',serif" font-size="14" fill="#fff" text-anchor="middle" textLength="67.4" lengthAdjust="spacingAndGlyphs">FINLAND</text>
<path d="M1151 482.3H1321V512H1151ZM1151 512L1161.9 512L1151 524.5Z" fill="#1a171b" stroke="#eeeeef" stroke-width="2" stroke-linejoin="miter"/>
<path d="M1151 482.3H1321V512H1151ZM1151 512L1161.9 512L1151 524.5Z" fill="#1a171b"/>
<text x="1235.2" y="504.0" font-family="'Liberation Serif','DejaVu Serif',serif" font-size="21" fill="#fff" text-anchor="middle" textLength="161.1" lengthAdjust="spacingAndGlyphs">SWITZERLAND</text>
<path d="M1080.4 616.1H1155.6V636.6H1080.4ZM1146 616.1L1155.6 604.4L1155.6 616.1Z" fill="#1a171b" stroke="#eeeeef" stroke-width="2" stroke-linejoin="miter"/>
<path d="M1080.4 616.1H1155.6V636.6H1080.4ZM1146 616.1L1155.6 604.4L1155.6 616.1Z" fill="#1a171b"/>
<text x="1118.9" y="631.4" font-family="'Liberation Serif','DejaVu Serif',serif" font-size="13.8" fill="#fff" text-anchor="middle" textLength="62.4" lengthAdjust="spacingAndGlyphs">TUNISIA</text>
<path d="M1172.3 762.1H1311.3V792.2H1172.3ZM1301.3 792.2L1311.3 792.2L1311.3 805.2Z" fill="#1a171b" stroke="#eeeeef" stroke-width="2" stroke-linejoin="miter"/>
<path d="M1172.3 762.1H1311.3V792.2H1172.3ZM1301.3 792.2L1311.3 792.2L1311.3 805.2Z" fill="#1a171b"/>
<text x="1242.4" y="784.7" font-family="'Liberation Serif','DejaVu Serif',serif" font-size="21.7" fill="#fff" text-anchor="middle" textLength="125.5" lengthAdjust="spacingAndGlyphs">MAURITIUS</text>
<path d="M1139.4 877.8H1283.8V905.4H1139.4ZM1212 877.8L1212 863.6L1222.8 877.8Z" fill="#1a171b" stroke="#eeeeef" stroke-width="2" stroke-linejoin="miter"/>
<path d="M1139.4 877.8H1283.8V905.4H1139.4ZM1212 877.8L1212 863.6L1222.8 877.8Z" fill="#1a171b"/>
<text x="1211.6" y="897.8" font-family="'Liberation Serif','DejaVu Serif',serif" font-size="17.7" fill="#fff" text-anchor="middle" textLength="138.1" lengthAdjust="spacingAndGlyphs">SOUTH AFRICA</text>
<path d="M1556.1 595.6H1766.7V623.7H1556.1ZM1556.1 623.7L1567 623.7L1556.1 637.5Z" fill="#1a171b" stroke="#eeeeef" stroke-width="2" stroke-linejoin="miter"/>
<path d="M1556.1 595.6H1766.7V623.7H1556.1ZM1556.1 623.7L1567 623.7L1556.1 637.5Z" fill="#1a171b"/>
<text x="1662.2" y="615.3" font-family="'Liberation Serif','DejaVu Serif',serif" font-size="17.4" fill="#fff" text-anchor="middle" textLength="197.6" lengthAdjust="spacingAndGlyphs">HONG KONG (CHINA)</text>
<path d="M1514 676.9H1652.4V706.1H1514ZM1514 706.1L1524.4 706.1L1514 719.5Z" fill="#1a171b" stroke="#eeeeef" stroke-width="2" stroke-linejoin="miter"/>
<path d="M1514 676.9H1652.4V706.1H1514ZM1514 706.1L1524.4 706.1L1514 719.5Z" fill="#1a171b"/>
<text x="1583.4" y="697.9" font-family="'Liberation Serif','DejaVu Serif',serif" font-size="20.5" fill="#fff" text-anchor="middle" textLength="128.7" lengthAdjust="spacingAndGlyphs">SINGAPORE</text>
<path d="M1723.6 851.9H1843.5V873.6H1723.6ZM1775.4 873.6L1786.2 873.6L1786.2 886.9Z" fill="#1a171b" stroke="#eeeeef" stroke-width="2" stroke-linejoin="miter"/>
<path d="M1723.6 851.9H1843.5V873.6H1723.6ZM1775.4 873.6L1786.2 873.6L1786.2 886.9Z" fill="#1a171b"/>
<text x="1783.2" y="868.4" font-family="'Liberation Serif','DejaVu Serif',serif" font-size="14.2" fill="#fff" text-anchor="middle" textLength="109.2" lengthAdjust="spacingAndGlyphs">NEW ZEALAND</text>
<circle cx="1310.5" cy="812.2" r="3.6" fill="#5d7d17"/>
<circle cx="1512.6" cy="723.3" r="2.9" fill="#4f87a4"/>
</g>
<g id="left">
<path d="M0 0H424V172.5L404 148.5H0Z" fill="#1a171b"/>
<text x="50.3" y="75.6" font-family="'Liberation Sans','DejaVu Sans',sans-serif" font-size="29.8" fill="#fff" textLength="300.0" lengthAdjust="spacingAndGlyphs">GLOBAL INNOVATION</text>
<text x="50.7" y="112.6" font-family="'Liberation Sans','DejaVu Sans',sans-serif" font-size="29.8" fill="#fff" textLength="160.9" lengthAdjust="spacingAndGlyphs">INDEX 2012</text>
<text x="51.3" y="199.0" font-family="'Liberation Serif','DejaVu Serif',serif" font-size="21" fill="#1a171b" textLength="246.5" lengthAdjust="spacingAndGlyphs">Who is leading innovation?</text>
<text x="51.3" y="225.5" font-family="'Liberation Serif','DejaVu Serif',serif" font-size="21" fill="#1a171b" textLength="303.3" lengthAdjust="spacingAndGlyphs">Every year, the Global Innovation</text>
<text x="51.3" y="252.0" font-family="'Liberation Serif','DejaVu Serif',serif" font-size="21" fill="#1a171b" textLength="361.7" lengthAdjust="spacingAndGlyphs">Index ranks the innovation performance</text>
<text x="51.3" y="278.4" font-family="'Liberation Serif','DejaVu Serif',serif" font-size="21" fill="#1a171b" textLength="331.0" lengthAdjust="spacingAndGlyphs">of over 140 countries and economies</text>
<text x="51.3" y="304.8" font-family="'Liberation Serif','DejaVu Serif',serif" font-size="21" fill="#1a171b" textLength="349.6" lengthAdjust="spacingAndGlyphs">around the world. The ranking is based</text>
<text x="51.3" y="331.0" font-family="'Liberation Serif','DejaVu Serif',serif" font-size="21" fill="#1a171b" textLength="330.0" lengthAdjust="spacingAndGlyphs">on 84 indicators and has a maximum</text>
<text x="51.3" y="357.2" font-family="'Liberation Serif','DejaVu Serif',serif" font-size="21" fill="#1a171b" textLength="114.7" lengthAdjust="spacingAndGlyphs">score of 100.</text>
<rect x="0.0" y="387.5" width="424.0" height="7.5" fill="#1a171b"/>
<rect x="0.0" y="677.5" width="424.0" height="7.5" fill="#1a171b"/>
<rect x="0.0" y="1026.5" width="425.0" height="7.5" fill="#1a171b"/>
<text x="52.0" y="433.0" font-family="'Liberation Serif','DejaVu Serif',serif" font-size="19.3" fill="#1a171b" textLength="303.0" lengthAdjust="spacingAndGlyphs">THE WORLD'S TOP 5 INNOVATORS</text>
<text x="73.0" y="492.0" font-family="'Liberation Serif','DejaVu Serif',serif" font-size="42.5" fill="#1a171b" textLength="323.1" lengthAdjust="spacingAndGlyphs">SWITZERLAND</text>
<circle cx="58" cy="483.5" r="6.3" fill="#ab052f"/>
<text x="73.0" y="537.0" font-family="'Liberation Serif','DejaVu Serif',serif" font-size="36.5" fill="#1a171b" textLength="163.1" lengthAdjust="spacingAndGlyphs">SWEDEN</text>
<circle cx="56.5" cy="529.5" r="5.3" fill="#c1504e"/>
<text x="73.0" y="576.5" font-family="'Liberation Serif','DejaVu Serif',serif" font-size="32.5" fill="#1a171b" textLength="194.1" lengthAdjust="spacingAndGlyphs">SINGAPORE</text>
<circle cx="55.5" cy="568.5" r="4.4" fill="#4f87a4"/>
<text x="75.0" y="611.5" font-family="'Liberation Serif','DejaVu Serif',serif" font-size="28" fill="#1a171b" textLength="126.0" lengthAdjust="spacingAndGlyphs">FINLAND</text>
<circle cx="54.5" cy="605.5" r="3.8" fill="#d4897e"/>
<text x="75.0" y="645.0" font-family="'Liberation Serif','DejaVu Serif',serif" font-size="23" fill="#1a171b" textLength="203.0" lengthAdjust="spacingAndGlyphs">UNITED KINGDOM</text>
<circle cx="52.5" cy="639.5" r="2.8" fill="#ffffff"/>
<text x="50.0" y="726.5" font-family="'Liberation Serif','DejaVu Serif',serif" font-size="18.7" fill="#1a171b" textLength="218.5" lengthAdjust="spacingAndGlyphs">INNOVATION CLIMBERS</text>
<text x="50.0" y="744.8" font-family="'Liberation Serif','DejaVu Serif',serif" font-size="14.3" fill="#1a171b" textLength="367.0" lengthAdjust="spacingAndGlyphs">Countries which improved their innovation ranking the most</text>
<text x="51.0" y="761.8" font-family="'Liberation Serif','DejaVu Serif',serif" font-size="14.3" fill="#1a171b" textLength="347.0" lengthAdjust="spacingAndGlyphs">due to changes in performance (as compared to last year).</text>
<rect x="50.5" y="778.5" width="1.2" height="222.0" fill="#55565a"/>
<rect x="51.5" y="790.5" width="333.5" height="20.3" fill="#1a171b"/>
<text x="55.0" y="805.2" font-family="'Liberation Serif','DejaVu Serif',serif" font-size="12.3" fill="#fff" textLength="65.0" lengthAdjust="spacingAndGlyphs">SWAZILAND</text>
<text x="391.0" y="806.1" font-family="'Liberation Sans','DejaVu Sans',sans-serif" font-size="17" fill="#1a171b" textLength="26.5" lengthAdjust="spacingAndGlyphs">+28</text>
<rect x="51.5" y="826.0" width="212.0" height="20.3" fill="#4b4b4d"/>
<text x="55.0" y="840.7" font-family="'Liberation Serif','DejaVu Serif',serif" font-size="12.3" fill="#fff" textLength="138.0" lengthAdjust="spacingAndGlyphs">BRUNEI DARUSSALAM</text>
<text x="269.5" y="841.6" font-family="'Liberation Sans','DejaVu Sans',sans-serif" font-size="17" fill="#1a171b" textLength="26.5" lengthAdjust="spacingAndGlyphs">+18</text>
<rect x="51.5" y="861.5" width="212.0" height="20.3" fill="#4b4b4d"/>
<text x="55.0" y="876.2" font-family="'Liberation Serif','DejaVu Serif',serif" font-size="12.3" fill="#fff" textLength="72.5" lengthAdjust="spacingAndGlyphs">MAURITIUS</text>
<text x="269.5" y="877.1" font-family="'Liberation Sans','DejaVu Sans',sans-serif" font-size="17" fill="#1a171b" textLength="26.5" lengthAdjust="spacingAndGlyphs">+18</text>
<rect x="51.5" y="897.0" width="177.0" height="20.3" fill="#767678"/>
<text x="55.0" y="911.7" font-family="'Liberation Serif','DejaVu Serif',serif" font-size="12.3" fill="#fff" textLength="56.0" lengthAdjust="spacingAndGlyphs">RWANDA</text>
<text x="234.5" y="912.6" font-family="'Liberation Sans','DejaVu Sans',sans-serif" font-size="17" fill="#1a171b" textLength="26.5" lengthAdjust="spacingAndGlyphs">+15</text>
<rect x="51.5" y="932.5" width="154.0" height="20.3" fill="#9c9d9f"/>
<text x="55.0" y="947.2" font-family="'Liberation Serif','DejaVu Serif',serif" font-size="12.3" fill="#fff" textLength="72.5" lengthAdjust="spacingAndGlyphs">MONGOLIA</text>
<text x="211.5" y="948.1" font-family="'Liberation Sans','DejaVu Sans',sans-serif" font-size="17" fill="#1a171b" textLength="26.5" lengthAdjust="spacingAndGlyphs">+13</text>
<rect x="51.5" y="968.0" width="154.0" height="20.3" fill="#9c9d9f"/>
<text x="55.0" y="982.7" font-family="'Liberation Serif','DejaVu Serif',serif" font-size="12.3" fill="#fff" textLength="50.0" lengthAdjust="spacingAndGlyphs">ZAMBIA</text>
<text x="211.5" y="983.6" font-family="'Liberation Sans','DejaVu Sans',sans-serif" font-size="17" fill="#1a171b" textLength="26.5" lengthAdjust="spacingAndGlyphs">+13</text>
<text x="51.0" y="1075.5" font-family="'Liberation Serif','DejaVu Serif',serif" font-size="18.7" fill="#1a171b" textLength="379.0" lengthAdjust="spacingAndGlyphs">WHO IS INNOVATING MOST EFFICIENTLY?</text>
<text x="51.0" y="1093.8" font-family="'Liberation Serif','DejaVu Serif',serif" font-size="14.3" fill="#1a171b" textLength="368.0" lengthAdjust="spacingAndGlyphs">Countries which transform innovation inputs most efficiently</text>
<text x="50.0" y="1110.8" font-family="'Liberation Serif','DejaVu Serif',serif" font-size="14.3" fill="#1a171b" textLength="385.0" lengthAdjust="spacingAndGlyphs">into innovation outputs (ratio between output and input scores).</text>
<rect x="51.0" y="1121.0" width="1.2" height="237.0" fill="#55565a"/>
<rect x="52.0" y="1132.5" width="246.5" height="20.3" fill="#1a171b"/>
<text x="56.0" y="1147.2" font-family="'Liberation Serif','DejaVu Serif',serif" font-size="12.3" fill="#fff" textLength="42.5" lengthAdjust="spacingAndGlyphs">CHINA</text>
<text x="305.0" y="1148.7" font-family="'Liberation Sans','DejaVu Sans',sans-serif" font-size="17" fill="#1a171b" textLength="30.5" lengthAdjust="spacingAndGlyphs">1.13</text>
<rect x="52.0" y="1181.5" width="239.0" height="20.3" fill="#4b4b4d"/>
<text x="56.0" y="1196.2" font-family="'Liberation Serif','DejaVu Serif',serif" font-size="12.3" fill="#fff" textLength="37.5" lengthAdjust="spacingAndGlyphs">INDIA</text>
<text x="297.5" y="1197.7" font-family="'Liberation Sans','DejaVu Sans',sans-serif" font-size="17" fill="#1a171b" textLength="30.5" lengthAdjust="spacingAndGlyphs">1.10</text>
<rect x="52.0" y="1229.5" width="238.0" height="20.3" fill="#767678"/>
<text x="56.0" y="1244.2" font-family="'Liberation Serif','DejaVu Serif',serif" font-size="12.3" fill="#fff" textLength="152.0" lengthAdjust="spacingAndGlyphs">REPUBLIC OF MOLDOVA</text>
<text x="296.5" y="1245.7" font-family="'Liberation Sans','DejaVu Sans',sans-serif" font-size="17" fill="#1a171b" textLength="30.5" lengthAdjust="spacingAndGlyphs">1.08</text>
<rect x="52.0" y="1277.0" width="225.5" height="20.3" fill="#9c9d9f"/>
<text x="56.0" y="1291.7" font-family="'Liberation Serif','DejaVu Serif',serif" font-size="12.3" fill="#fff" textLength="43.5" lengthAdjust="spacingAndGlyphs">MALTA</text>
<text x="284.0" y="1293.2" font-family="'Liberation Sans','DejaVu Sans',sans-serif" font-size="17" fill="#1a171b" textLength="30.5" lengthAdjust="spacingAndGlyphs">1.03</text>
<rect x="52.0" y="1325.0" width="220.5" height="20.3" fill="#bcbdbf"/>
<text x="56.0" y="1339.7" font-family="'Liberation Serif','DejaVu Serif',serif" font-size="12.3" fill="#fff" textLength="93.0" lengthAdjust="spacingAndGlyphs">SWITZERLAND</text>
<text x="279.0" y="1341.2" font-family="'Liberation Sans','DejaVu Sans',sans-serif" font-size="17" fill="#1a171b" textLength="30.5" lengthAdjust="spacingAndGlyphs">1.01</text>
</g>
<g id="bars">
<rect x="511.5" y="1169.8" width="42.7" height="192.5" fill="#97235b"/>
<text x="531.0" y="1164.0" font-family="'Liberation Sans','DejaVu Sans',sans-serif" font-size="17.2" fill="#1a171b" text-anchor="middle" textLength="32.9" lengthAdjust="spacingAndGlyphs">57.7</text>
<rect x="569.2" y="1172.4" width="42.7" height="189.9" fill="#af5982"/>
<text x="589.4" y="1166.7" font-family="'Liberation Sans','DejaVu Sans',sans-serif" font-size="17.2" fill="#1a171b" text-anchor="middle" textLength="32.9" lengthAdjust="spacingAndGlyphs">56.9</text>
<rect x="628.8" y="1241.2" width="42.7" height="121.1" fill="#c88fab"/>
<text x="650.2" y="1233.1" font-family="'Liberation Sans','DejaVu Sans',sans-serif" font-size="17.2" fill="#1a171b" text-anchor="middle" textLength="32.9" lengthAdjust="spacingAndGlyphs">36.3</text>
<rect x="464.7" y="1361.7" width="255.5" height="1.2" fill="#8d8e90"/>
<text x="590.3" y="1390.6" font-family="'Liberation Serif','DejaVu Serif',serif" font-size="13.6" fill="#1a171b" text-anchor="middle" textLength="233.0" lengthAdjust="spacingAndGlyphs">NORTH AND CENTRAL AMERICA</text>
<rect x="793.4" y="1219.9" width="42.7" height="142.4" fill="#ffec00"/>
<text x="813.7" y="1211.7" font-family="'Liberation Sans','DejaVu Sans',sans-serif" font-size="17.2" fill="#1a171b" text-anchor="middle" textLength="32.9" lengthAdjust="spacingAndGlyphs">42.7</text>
<rect x="850.9" y="1240.1" width="42.7" height="122.2" fill="#fdf39b"/>
<text x="871.5" y="1231.6" font-family="'Liberation Sans','DejaVu Sans',sans-serif" font-size="17.2" fill="#1a171b" text-anchor="middle" textLength="32.9" lengthAdjust="spacingAndGlyphs">36.6</text>
<rect x="910.9" y="1244.1" width="42.7" height="118.2" fill="#fef9d1"/>
<text x="931.2" y="1235.5" font-family="'Liberation Sans','DejaVu Sans',sans-serif" font-size="17.2" fill="#1a171b" text-anchor="middle" textLength="32.9" lengthAdjust="spacingAndGlyphs">35.5</text>
<rect x="746.8" y="1361.7" width="254.4" height="1.2" fill="#8d8e90"/>
<text x="865.9" y="1390.6" font-family="'Liberation Serif','DejaVu Serif',serif" font-size="13.6" fill="#1a171b" text-anchor="middle" textLength="123.4" lengthAdjust="spacingAndGlyphs">SOUTH AMERICA</text>
<rect x="1075.6" y="1134.8" width="42.7" height="227.5" fill="#aa0630"/>
<text x="1096.8" y="1127.5" font-family="'Liberation Sans','DejaVu Sans',sans-serif" font-size="17.2" fill="#1a171b" text-anchor="middle" textLength="32.9" lengthAdjust="spacingAndGlyphs">68.2</text>
<rect x="1133.2" y="1146.0" width="42.7" height="216.3" fill="#c1504e"/>
<text x="1156.3" y="1138.2" font-family="'Liberation Sans','DejaVu Sans',sans-serif" font-size="17.2" fill="#1a171b" text-anchor="middle" textLength="32.9" lengthAdjust="spacingAndGlyphs">64.8</text>
<rect x="1193.0" y="1156.2" width="42.7" height="206.1" fill="#d4897e"/>
<text x="1215.2" y="1150.1" font-family="'Liberation Sans','DejaVu Sans',sans-serif" font-size="17.2" fill="#1a171b" text-anchor="middle" textLength="32.9" lengthAdjust="spacingAndGlyphs">61.8</text>
<rect x="1028.9" y="1361.7" width="253.2" height="1.2" fill="#8d8e90"/>
<text x="1155.0" y="1390.6" font-family="'Liberation Serif','DejaVu Serif',serif" font-size="13.6" fill="#1a171b" text-anchor="middle" textLength="58.5" lengthAdjust="spacingAndGlyphs">EUROPE</text>
<rect x="1357.9" y="1231.8" width="42.7" height="130.5" fill="#5d7d17"/>
<text x="1377.6" y="1225.3" font-family="'Liberation Sans','DejaVu Sans',sans-serif" font-size="17.2" fill="#1a171b" text-anchor="middle" textLength="32.9" lengthAdjust="spacingAndGlyphs">39.2</text>
<rect x="1415.3" y="1237.6" width="42.7" height="124.7" fill="#85994b"/>
<text x="1436.2" y="1231.3" font-family="'Liberation Sans','DejaVu Sans',sans-serif" font-size="17.2" fill="#1a171b" text-anchor="middle" textLength="32.9" lengthAdjust="spacingAndGlyphs">37.4</text>
<rect x="1475.1" y="1240.7" width="42.7" height="121.6" fill="#adb982"/>
<text x="1496.2" y="1234.9" font-family="'Liberation Sans','DejaVu Sans',sans-serif" font-size="17.2" fill="#1a171b" text-anchor="middle" textLength="32.9" lengthAdjust="spacingAndGlyphs">36.5</text>
<rect x="1311.0" y="1361.7" width="253.6" height="1.2" fill="#8d8e90"/>
<text x="1433.2" y="1390.6" font-family="'Liberation Serif','DejaVu Serif',serif" font-size="13.6" fill="#1a171b" text-anchor="middle" textLength="54.0" lengthAdjust="spacingAndGlyphs">AFRICA</text>
<rect x="1640.0" y="1150.5" width="42.7" height="211.8" fill="#4f87a4"/>
<text x="1661.0" y="1143.7" font-family="'Liberation Sans','DejaVu Sans',sans-serif" font-size="17.2" fill="#1a171b" text-anchor="middle" textLength="32.9" lengthAdjust="spacingAndGlyphs">63.5</text>
<rect x="1697.4" y="1166.7" width="42.7" height="195.6" fill="#72a0b7"/>
<text x="1718.6" y="1161.5" font-family="'Liberation Sans','DejaVu Sans',sans-serif" font-size="17.2" fill="#1a171b" text-anchor="middle" textLength="32.9" lengthAdjust="spacingAndGlyphs">58.7</text>
<rect x="1757.2" y="1173.5" width="42.7" height="188.8" fill="#96b7ca"/>
<text x="1778.8" y="1166.7" font-family="'Liberation Sans','DejaVu Sans',sans-serif" font-size="17.2" fill="#1a171b" text-anchor="middle" textLength="32.9" lengthAdjust="spacingAndGlyphs">56.6</text>
<rect x="1593.2" y="1361.7" width="253.6" height="1.2" fill="#8d8e90"/>
<text x="1719.6" y="1390.6" font-family="'Liberation Serif','DejaVu Serif',serif" font-size="13.6" fill="#1a171b" text-anchor="middle" textLength="140.3" lengthAdjust="spacingAndGlyphs">ASIA AND OCEANIA</text>
</g>
<text x="515.5" y="174.0" font-family="'Liberation Serif','DejaVu Serif',serif" font-size="29" fill="#1a171b" textLength="550.5" lengthAdjust="spacingAndGlyphs">TOP THREE PERFORMERS PER REGION</text>
<text transform="translate(1886.6 1361.5) rotate(-90)" font-family="'Liberation Serif','DejaVu Serif',serif" font-size="9.8" fill="#1a171b" textLength="587.5" lengthAdjust="spacingAndGlyphs">WORLD INTELLECTUAL PROPERTY ORGANIZATION (WIPO). SOURCE: GLOBALINNOVATIONINDEX.ORG. DESIGN: LARGENETWORK.</text>
</svg></body></html>
